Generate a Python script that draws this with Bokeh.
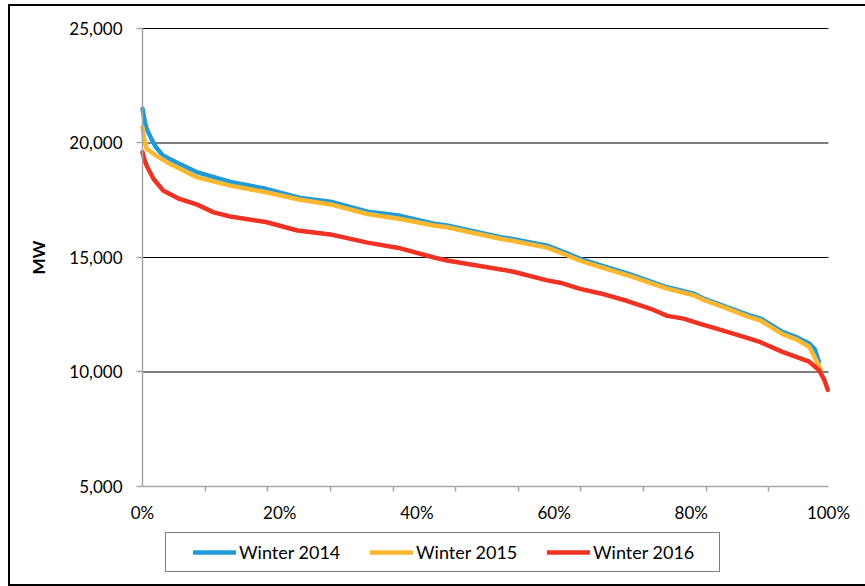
from bokeh.plotting import figure
from bokeh.models import (FixedTicker, NumeralTickFormatter, PrintfTickFormatter,
                          Range1d, Legend, LegendItem)
from bokeh.embed import file_html
from bokeh.resources import INLINE

# ---- data (x = % of hours, y = MW) ----
w2014_x = [0.0, 0.3, 0.6, 1.3, 2.0, 3.0, 4.9, 7.9, 12.8, 18.0, 23.0, 27.7, 32.8, 34.7, 37.6,
           42.5, 44.4, 52.2, 54.1, 59.0, 61.9, 63.8, 66.8, 71.0, 76.5, 80.4, 81.8, 85.0,
           88.5, 90.1, 93.3, 95.5, 97.2, 98.0, 98.6]
w2014_y = [21500, 21000, 20620, 20180, 19800, 19450, 19160, 18730, 18300, 18000, 17600, 17420,
           17000, 16930, 16820, 16480, 16400, 15890, 15800, 15520, 15180, 14940, 14650, 14270,
           13700, 13420, 13200, 12850, 12470, 12330, 11750, 11500, 11240, 11000, 10450]

w2015_x = [0.0, 0.3, 0.6, 2.0, 4.0, 7.9, 12.8, 18.0, 23.0, 27.7, 32.8, 37.6, 42.5, 44.4,
           52.2, 54.1, 59.0, 61.9, 63.8, 66.8, 71.0, 76.5, 80.4, 81.8, 85.0, 88.5, 90.1,
           93.3, 95.5, 97.2, 97.7, 98.4, 98.9]
w2015_y = [20700, 20100, 19750, 19450, 19090, 18510, 18140, 17850, 17520, 17300, 16900, 16680,
           16400, 16320, 15820, 15720, 15430, 15100, 14860, 14580, 14200, 13640, 13350, 13150,
           12800, 12400, 12250, 11650, 11400, 11100, 10810, 10400, 10090]

w2016_x = [0.0, 0.3, 0.6, 1.6, 3.0, 5.4, 7.9, 10.4, 12.8, 18.0, 22.6, 27.7, 32.8, 37.6, 42.5,
           44.4, 54.1, 59.0, 60.9, 63.8, 66.8, 70.7, 74.1, 76.5, 78.9, 81.3, 83.7, 88.5,
           90.1, 93.3, 97.2, 98.6, 99.4, 99.9]
w2016_y = [19600, 19250, 19020, 18440, 17930, 17560, 17320, 16970, 16790, 16550, 16180, 15990,
           15650, 15400, 15000, 14870, 14380, 14000, 13900, 13630, 13430, 13100, 12760, 12450,
           12330, 12100, 11895, 11460, 11300, 10880, 10450, 10090, 9655, 9220]

series_names = ["Winter 2014", "Winter 2015", "Winter 2016"]
series_colors = ["#1f9bd7", "#fbb731", "#ee3224"]

x_ticks = [0, 20, 40, 60, 80, 100]
x_minor = [9.13 * i for i in range(1, 11)]
y_ticks = [5000, 10000, 15000, 20000, 25000]
grid_ticks = [10000, 15000, 20000, 25000]

FONT = "Lato"

# The frame covers the whole chart box; both axes are pinned inside it
# (x axis at 5,000 MW, y axis at 0 %) so that labels and legend are not clipped.
p = figure(frame_width=855, frame_height=578, output_backend="svg", toolbar_location=None,
           x_range=Range1d(-19.242, 105.394), y_range=Range1d(720.5, 25960.7),
           min_border_left=0, min_border_right=0, min_border_top=0, min_border_bottom=0)
p.styles = {"border-left": "2px solid black", "border-top": "2px solid black",
            "border-bottom": "2px solid black", "position": "relative",
            "left": "8px", "top": "4px"}
p.outline_line_color = None
p.background_fill_color = "white"
p.border_fill_color = "white"

# horizontal gridlines limited to the plot area
p.segment(x0=0, x1=100, y0=grid_ticks, y1=grid_ticks, line_color="black", line_width=1.2)

renderers = []
for xs, ys, c in [(w2014_x, w2014_y, series_colors[0]),
                  (w2015_x, w2015_y, series_colors[1]),
                  (w2016_x, w2016_y, series_colors[2])]:
    r = p.line(xs, ys, line_color=c, line_width=4.5, line_join="round", line_cap="round")
    renderers.append(r)

# x axis
xa = p.xaxis[0]
xa.fixed_location = 5000
xa.bounds = (0, 100)
xa.ticker = FixedTicker(ticks=x_ticks, minor_ticks=x_minor)
xa.formatter = PrintfTickFormatter(format="%d%%")
xa.axis_line_color = "#a6a6a6"
xa.axis_line_width = 1.5
xa.major_tick_line_color = None
xa.major_tick_out = 0
xa.major_tick_in = 0
xa.minor_tick_line_color = "#a6a6a6"
xa.minor_tick_line_width = 1.5
xa.minor_tick_out = 5
xa.minor_tick_in = 0
xa.major_label_standoff = 11
xa.major_label_text_font = FONT
xa.major_label_text_font_size = "17px"
xa.major_label_text_color = "black"

# y axis
ya = p.yaxis[0]
ya.fixed_location = 0
ya.bounds = (5000, 25000)
ya.ticker = FixedTicker(ticks=y_ticks, minor_ticks=[])
ya.formatter = NumeralTickFormatter(format="0,0")
ya.axis_line_color = "#a6a6a6"
ya.axis_line_width = 1.5
ya.major_tick_line_color = "#a6a6a6"
ya.major_tick_line_width = 1.5
ya.major_tick_out = 6
ya.major_tick_in = 0
ya.major_label_standoff = 14
ya.major_label_text_font = FONT
ya.major_label_text_font_size = "17px"
ya.major_label_text_color = "black"
ya.axis_label = "MW"
ya.axis_label_text_font = FONT
ya.axis_label_text_font_style = "bold"
ya.axis_label_text_font_size = "17px"
ya.axis_label_text_color = "black"
ya.axis_label_standoff = 17

p.xgrid.visible = False
p.ygrid.visible = False

legend = Legend(items=[LegendItem(label=n, renderers=[r]) for n, r in zip(series_names, renderers)],
                orientation="horizontal", location=(155, 12),
                title=" ", title_location="left", title_standoff=18,
                title_text_font=FONT, title_text_font_size="1px",
                border_line_color="black", border_line_width=1.2,
                background_fill_color="white", background_fill_alpha=1,
                label_text_font=FONT, label_text_font_size="18px",
                label_text_color="black",
                glyph_width=43, glyph_height=20, label_standoff=3,
                label_width=118, spacing=13,
                padding=8, margin=0)
p.add_layout(legend, "center")

open("out.html", "w").write(file_html(p, INLINE))
